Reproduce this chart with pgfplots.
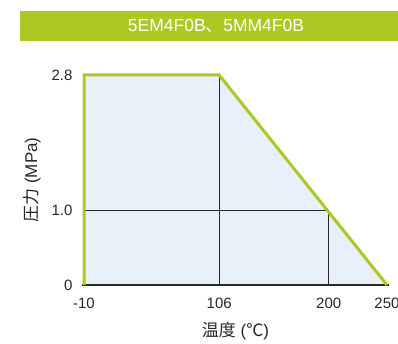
\documentclass[border=0pt]{standalone}
\usepackage{pgfplots}
\pgfplotsset{compat=1.18}
\usepackage{fontspec}
\setmainfont{Liberation Sans}
\newfontfamily\cjk{Noto Sans CJK JP}
\definecolor{lg}{RGB}{172,200,35}
\definecolor{fillb}{RGB}{232,240,250}
\definecolor{dk}{RGB}{40,40,40}
\begin{document}
\begin{tikzpicture}[x=1pt,y=1pt]
\useasboundingbox (0,0) rectangle (398,343);
\fill[lg] (20,302) rectangle (398,332);
\node[text=white, font=\fontsize{17.5}{19}\selectfont, inner sep=0] at (216,317) {5EM4F0B{\cjk 、}5MM4F0B};
\begin{axis}[
  at={(84pt,58pt)}, anchor=south west,
  scale only axis, width=303pt, height=210pt,
  xmin=-10, xmax=250, ymin=0, ymax=2.8,
  clip=false,
  axis line style={draw=none},
  tick style={draw=none},
  xtick={-10,106,200,250}, xticklabels={-10,106,200,250},
  ytick={0,1,2.8}, yticklabels={0,1.0,2.8},
  ticklabel style={font=\fontsize{15}{16}\selectfont, text=black!85},
  xticklabel style={yshift=-9pt},
  yticklabel style={xshift=-8pt},
  xlabel={{\cjk 温度} ({\cjk ℃})}, ylabel={{\cjk 圧力} (MPa)},
  label style={font=\fontsize{17}{19}\selectfont, text=black!85},
  xlabel style={at={(axis description cs:0.5,-0.22)}, anchor=center},
  ylabel style={at={(axis description cs:-0.172,0.5)}, anchor=center},
]
\addplot[fill=fillb, draw=none] coordinates {(-10,0) (-10,2.8) (106,2.8) (250,0)} \closedcycle;
\addplot[dk, line width=0.9pt] coordinates {(-10,1) (200,1)};
\addplot[dk, line width=0.9pt] coordinates {(106,0) (106,2.8)};
\addplot[dk, line width=0.9pt] coordinates {(200,0) (200,1)};
\addplot[dk, line width=1.2pt] coordinates {(-12,0) (252,0)};
\addplot[lg, line width=3pt, line join=miter] coordinates {(-10,0) (-10,2.8) (106,2.8) (250,0)};
\end{axis}
\end{tikzpicture}
\end{document}
